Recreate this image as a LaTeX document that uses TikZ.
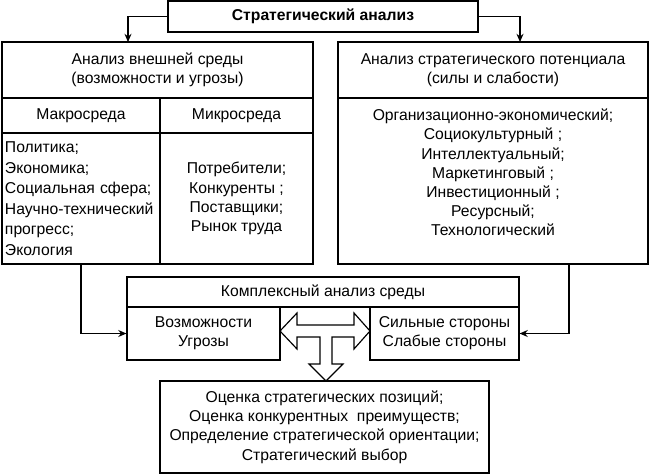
\documentclass[tikz,border=0pt]{standalone}
\usepackage{fontspec}
\setmainfont{Liberation Sans}
\usetikzlibrary{arrows.meta}
\usetikzlibrary{positioning}

\begin{document}
\begin{tikzpicture}[x=0.03cm, y=-0.03cm, line width=1pt,
	every node/.style={font=\fontsize{13.4}{16.4}\selectfont},
	box/.style={draw, inner sep=0pt, align=center},
	arr/.style={-{Stealth[length=7pt,width=6pt]}}]
	\useasboundingbox (0,0) rectangle (651,474);
	
	\node[box, minimum width=9.3cm, minimum height=0.93cm] (strat) at (323,16.5) {\bfseries Стратегический анализ};
	
	\node[box, minimum width=9.33cm, minimum height=1.68cm] (extHead) at (157.5,70) {Анализ внешней среды\\(возможности и угрозы)};
	\node[box, minimum width=4.74cm, minimum height=1.05cm] (macroHead) at (81,115.5) {Макросреда};
	\node[box, minimum width=4.59cm, minimum height=1.05cm] (microHead) at (236.5,115.5) {Микросреда};
	\node[box, minimum width=4.74cm, minimum height=3.93cm, text width=4.56cm, align=left, font=\fontsize{13.4}{17.5}\selectfont] (macroList) at (81,198.5) {Политика;\\Экономика;\\Социальная сфера;\\Научно-технический\\прогресс;\\Экология};
	\node[box, minimum width=4.59cm, minimum height=3.93cm] (microList) at (236.5,198.5) {Потребители;\\Конкуренты ;\\Поставщики;\\Рынок труда};
	
	\node[box, minimum width=9.3cm, minimum height=1.68cm] (potHead) at (493,70) {Анализ стратегического потенциала\\(силы и слабости)};
	\node[box, minimum width=9.3cm, minimum height=4.98cm] (potList) at (493,181) {};
	\node[inner sep=0pt, align=center, below=0.33cm of potList.north] (potItems) {Организационно-экономический;\\Социокультурный ;\\Интеллектуальный;\\Маркетинговый ;\\Инвестиционный ;\\Ресурсный;\\Технологический};
	
	\node[box, minimum width=11.76cm, minimum height=0.9cm] (complex) at (323,292) {Комплексный анализ среды};
	\node[box, minimum width=4.59cm, minimum height=1.59cm] (opps) at (203.5,333.5) {Возможности\\Угрозы};
	\node[box, minimum width=4.47cm, minimum height=1.59cm] (strengths) at (444.5,333.5) {Сильные стороны\\Слабые стороны};
	
	\node[box, minimum width=9.87cm, minimum height=2.76cm] (eval) at (324.5,427) {Оценка стратегических позиций;\\Оценка конкурентных~~преимуществ;\\Определение стратегической ориентации;\\Стратегический выбор};
	
	\coordinate (extIn) at (128,42);
	\coordinate (potIn) at (520,42);
	\coordinate (potOut) at (569,264);
	
	\draw[arr] (strat.west) -| (extIn);
	\draw[arr] (strat.east) -| (potIn);
	\draw[arr] (macroList.south) |- (opps.west);
	\draw[arr] (potOut) |- (strengths.east);
	
	\draw (280,331) -- (297,313) -- (297,325) -- (354,325) -- (354,313) -- (370,331) -- (354,349) -- (354,337) -- (332,337) -- (332,364) -- (343,364) -- (326,381) -- (309,364) -- (320,364) -- (320,337) -- (297,337) -- (297,349) -- cycle;
\end{tikzpicture}
\end{document}
